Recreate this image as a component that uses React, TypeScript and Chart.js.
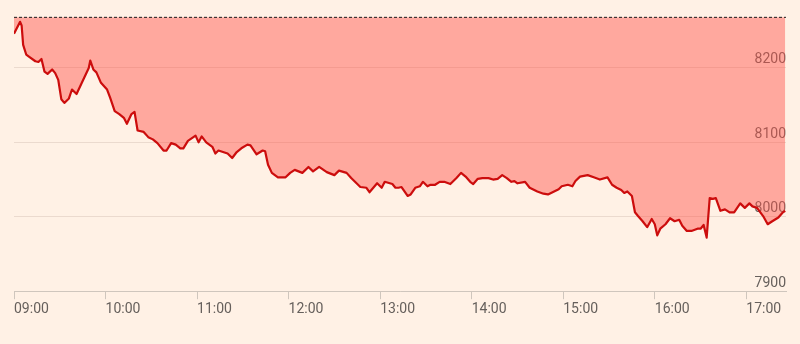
import React, { useEffect, useRef } from "react";
import { Chart, registerables } from "chart.js";

Chart.register(...registerables);

// minutes after 09:00
const TIMES: number[] = [
  0, 4, 5, 6, 8, 10, 14, 16, 18, 20, 22, 25, 27, 29, 31, 33, 36, 38, 41, 44, 49, 50, 52, 54, 57, 61, 63, 66, 69, 72,
  74, 77, 79, 81, 85, 88, 91, 94, 98, 100, 103, 106, 109, 111, 114, 119, 121, 123, 126, 130, 132, 134, 140, 143, 146,
  149, 153, 155, 159, 163, 164.6, 166.5, 169, 173, 178, 181, 184, 189, 193, 196, 200, 205, 210, 213, 218, 221, 227,
  231, 233, 238, 241, 243, 248, 250, 252, 254, 258, 260, 263, 266, 268, 271, 273, 276, 279, 282, 286, 290, 293, 296,
  299, 301, 304, 307, 311, 314, 317, 320, 323, 326, 328, 330, 335, 338, 343, 347, 350, 353, 357, 359, 361, 363, 366,
  368, 371, 376, 380, 384, 389, 392, 395, 398, 400, 402, 405, 407, 409, 412, 415, 418, 420, 421.6, 423.6, 427, 430,
  433, 436, 438, 441, 444, 448, 450, 452, 454, 456, 458, 460, 463, 466, 469, 472, 476, 479, 482, 484, 487, 491, 494,
  497, 501, 504, 505.5,
];

const VALUES: number[] = [
  8246, 8262, 8257, 8231, 8218, 8215, 8209, 8208, 8212, 8195, 8192, 8198, 8193, 8184, 8158, 8153, 8159, 8171, 8165,
  8178, 8200, 8210, 8198, 8194, 8180, 8171, 8160, 8142, 8138, 8133, 8125, 8138, 8141, 8116, 8114, 8107, 8104, 8099,
  8089, 8089, 8099, 8097, 8092, 8092, 8102, 8109, 8100, 8108, 8100, 8094, 8085, 8089, 8085, 8079, 8087, 8092, 8097,
  8096, 8084, 8089, 8088, 8070, 8059, 8053, 8053, 8059, 8063, 8059, 8067, 8061, 8067, 8060, 8056, 8062, 8059, 8052,
  8040, 8039, 8033, 8045, 8039, 8047, 8044, 8039, 8039, 8040, 8028, 8030, 8039, 8041, 8047, 8041, 8043, 8043, 8047,
  8047, 8044, 8052, 8059, 8054, 8047, 8044, 8051, 8052, 8052, 8050, 8051, 8056, 8052, 8047, 8048, 8045, 8047, 8039,
  8034, 8031, 8030, 8033, 8037, 8041, 8042, 8043, 8041, 8048, 8054, 8056, 8053, 8050, 8053, 8043, 8039, 8036, 8032,
  8034, 8028, 8006, 8001, 7994, 7986, 7997, 7990, 7975, 7984, 7990, 7998, 7994, 7996, 7988, 7981, 7981, 7984, 7984,
  7989, 7972, 8025, 8024, 8025, 8008, 8010, 8006, 8006, 8018, 8012, 8018, 8014, 8012, 8001, 7990, 7994, 7999, 8006,
  8008,
];

const PREV_CLOSE = 8268;
const X_MIN = 0;
const X_MAX = 506;
const X_TICKS: number[] = [0, 60, 120, 180, 240, 300, 360, 420, 480];
const X_TICK_LABELS: string[] = ["09:00", "10:00", "11:00", "12:00", "13:00", "14:00", "15:00", "16:00", "17:00"];
const Y_MIN = 7900;
const Y_MAX = 8280;
const Y_TICKS: number[] = [7900, 8000, 8100, 8200];

export default function App() {
  const ref = useRef<HTMLCanvasElement | null>(null);

  useEffect(() => {
    document.body.style.margin = "0";
    document.body.style.background = "#fff1e5";
    const canvas = ref.current;
    if (!canvas) return;
    const points = TIMES.map((t, i) => ({ x: t, y: VALUES[i] }));
    const chart = new Chart(canvas, {
      type: "line",
      data: {
        datasets: [
          {
            data: [
              { x: X_MIN, y: PREV_CLOSE },
              { x: X_MAX, y: PREV_CLOSE },
            ],
            borderColor: "#1a1a1a",
            borderWidth: 1,
            borderDash: [3, 2],
            pointRadius: 0,
            fill: false,
            order: 0,
          },
          {
            data: points,
            borderColor: "#cc0d0d",
            borderWidth: 2.2,
            borderJoinStyle: "round",
            pointRadius: 0,
            tension: 0,
            fill: { value: PREV_CLOSE },
            backgroundColor: "rgba(255, 80, 70, 0.45)",
            order: 1,
          },
        ],
      },
      options: {
        animation: false,
        responsive: false,
        devicePixelRatio: 1,
        layout: { padding: { left: 14, right: 14, top: 6, bottom: 24 } },
        plugins: { legend: { display: false }, tooltip: { enabled: false } },
        scales: {
          x: {
            type: "linear",
            min: X_MIN,
            max: X_MAX,
            afterBuildTicks: (axis: any) => {
              axis.ticks = X_TICKS.map((v) => ({ value: v }));
            },
            grid: {
              drawOnChartArea: false,
              drawTicks: true,
              tickLength: 8,
              color: "#cfc6bd",
            },
            border: { display: true, color: "#cfc6bd", width: 1 },
            ticks: {
              autoSkip: false,
              maxRotation: 0,
              align: "start",
              padding: 2,
              color: "#66605c",
              font: { family: "Roboto", size: 14 },
              callback: (value: any) => {
                const i = X_TICKS.indexOf(Number(value));
                return i >= 0 ? X_TICK_LABELS[i] : "";
              },
            },
          },
          y: {
            type: "linear",
            position: "right",
            min: Y_MIN,
            max: Y_MAX,
            afterBuildTicks: (axis: any) => {
              axis.ticks = Y_TICKS.map((v) => ({ value: v }));
            },
            grid: {
              drawTicks: false,
              color: "rgba(90, 60, 40, 0.12)",
              lineWidth: 1,
            },
            border: { display: false },
            ticks: {
              mirror: true,
              padding: 0,
              labelOffset: -8,
              color: "#66605c",
              font: { family: "Roboto", size: 14 },
              callback: (value: any) => String(value),
            },
          },
        },
      },
    } as any);
    return () => chart.destroy();
  }, []);

  return (
    <div style={{ position: "fixed", left: 0, top: 0, width: 800, height: 344, background: "#fff1e5" }}>
      <canvas ref={ref} width={800} height={344} style={{ display: "block" }} />
    </div>
  );
}
